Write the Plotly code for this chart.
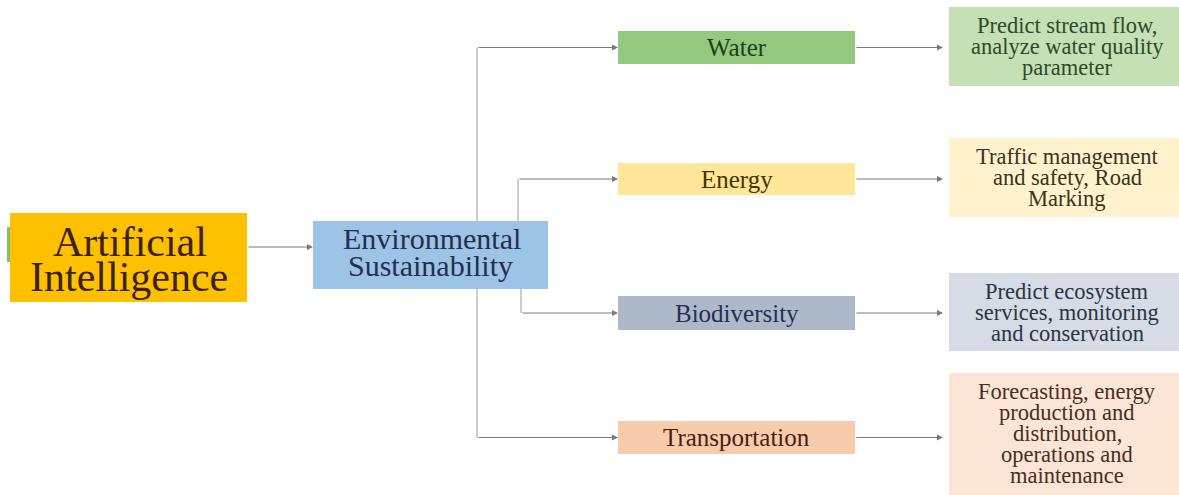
import plotly.graph_objects as go

# ---------------- data (labels) ----------------
root_lines = ["Artificial", "Intelligence"]
hub_lines = ["Environmental", "Sustainability"]
categories = ["Water", "Energy", "Biodiversity", "Transportation"]
descriptions = [
    ["Predict stream flow,", "analyze water quality", "parameter"],
    ["Traffic management", "and safety, Road", "Marking"],
    ["Predict ecosystem", "services, monitoring", "and conservation"],
    ["Forecasting, energy", "production and", "distribution,", "operations and", "maintenance"],
]

# ---------------- layout / style ----------------
W, H = 1179, 495
FONT = "Liberation Serif"
LINE = "#9a9a9a"

root_box = (10, 247, 213, 302)
root_fill, root_text = "#FFC000", "#3C2308"
hub_box = (313, 548, 221, 289)
hub_fill, hub_text = "#9DC3E6", "#1F3050"

mid_x = (618, 855)
mid_y = [(31, 64), (163, 195), (296, 330), (421, 454)]
mid_fill = ["#92C97E", "#FFE699", "#ADB9CA", "#F8CBAD"]
mid_text = ["#1F3F1A", "#4A3300", "#243050", "#4A2010"]

desc_x = (949, 1179)
desc_y = [(7, 86), (138, 217), (273, 351), (373, 500)]
desc_center = [46.5, 177.5, 312, 433]
desc_fill = ["#C5E0B4", "#FFF2CC", "#D6DCE5", "#FBE5D6"]
desc_text = ["#2E4A2A", "#3A3324", "#2C3344", "#4A2E20"]

fig = go.Figure()
fig.add_trace(go.Scatter(x=[0, W], y=[0, H], mode="markers",
                         marker=dict(opacity=0), hoverinfo="skip", showlegend=False))

shapes = []
annotations = []


def line(x0, y0, x1, y1):
    shapes.append(dict(type="line", x0=x0, y0=y0, x1=x1, y1=y1, xref="x", yref="y",
                       line=dict(color=LINE, width=1)))


def arrow(x0, y0, x1, y1):
    annotations.append(dict(x=x1, y=y1, ax=x0, ay=y0, xref="x", yref="y", axref="x", ayref="y",
                            text="", showarrow=True, arrowhead=2, arrowsize=1.2, arrowwidth=1,
                            arrowcolor="#7a7a7a", standoff=0, startstandoff=0))


def rect(box, fill):
    x0, x1, y0, y1 = box
    shapes.append(dict(type="rect", x0=x0, x1=x1, y0=y0, y1=y1, xref="x", yref="y",
                       fillcolor=fill, line=dict(width=0)))


def text(x, y, s, size, color, family=FONT):
    annotations.append(dict(x=x, y=y, xref="x", yref="y", text=s, showarrow=False,
                            xanchor="center", yanchor="middle",
                            font=dict(family=family, size=size, color=color)))


# connector lines (drawn under boxes)
mid_c = [(a + b) / 2 for a, b in mid_y]
line(477, mid_c[0], 477, mid_c[3])
line(518, mid_c[1], 518, hub_box[2])
line(521, hub_box[3], 521, mid_c[2])

# boxes
shapes.append(dict(type="rect", x0=7, x1=11, y0=227, y1=262, xref="x", yref="y",
                   fillcolor="#7CC46A", line=dict(width=0)))
rect(root_box, root_fill)
rect(hub_box, hub_fill)
for i in range(4):
    rect((mid_x[0], mid_x[1], mid_y[i][0], mid_y[i][1]), mid_fill[i])
    rect((desc_x[0], desc_x[1], desc_y[i][0], desc_y[i][1]), desc_fill[i])

# arrows
arrow(root_box[1], 247, hub_box[0], 247)
arrow(477, mid_c[0], mid_x[0], mid_c[0])
arrow(518, mid_c[1], mid_x[0], mid_c[1])
arrow(521, mid_c[2], mid_x[0], mid_c[2])
arrow(477, mid_c[3], mid_x[0], mid_c[3])
for i in range(4):
    arrow(mid_x[1], mid_c[i], desc_x[0] - 6, mid_c[i])

# texts
root_cx = (root_box[0] + root_box[1]) / 2
text(root_cx + 1, 242, root_lines[0], 42, root_text)
text(root_cx, 277, root_lines[1], 42, root_text)
hub_cx = (hub_box[0] + hub_box[1]) / 2
text(hub_cx + 1, 238, hub_lines[0], 30, hub_text)
text(hub_cx, 265, hub_lines[1], 30, hub_text)

mid_cx = (mid_x[0] + mid_x[1]) / 2
for i, cat in enumerate(categories):
    text(mid_cx, mid_c[i], cat, 25, mid_text[i])

desc_cx = (desc_x[0] + desc_x[1]) / 2 + 3
for i, lines in enumerate(descriptions):
    n = len(lines)
    for j, s in enumerate(lines):
        yy = desc_center[i] + (j - (n - 1) / 2) * 21
        text(desc_cx, yy, s, 22.5, desc_text[i])

fig.update_layout(
    width=W, height=H,
    margin=dict(l=0, r=0, t=0, b=0),
    paper_bgcolor="white", plot_bgcolor="white",
    xaxis=dict(range=[0, W], visible=False, fixedrange=True),
    yaxis=dict(range=[H, 0], visible=False, fixedrange=True),
    shapes=shapes, annotations=annotations,
    showlegend=False,
)

fig.write_html("out.html", config={"displayModeBar": False},
               post_script="document.body.style.margin='0';document.body.style.overflow='hidden';")
